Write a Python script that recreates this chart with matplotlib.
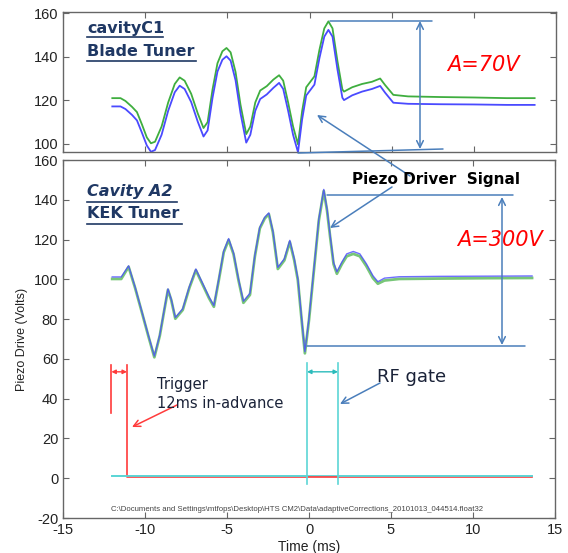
import matplotlib
matplotlib.use("Agg")
from matplotlib import pyplot as plt
from matplotlib.lines import Line2D
from matplotlib.patches import FancyArrowPatch

plt.rcParams["axes.unicode_minus"] = False

# ---- cavity C1 (blade tuner), top panel ----
c1_t = [-12.0, -11.5, -11.2, -10.8, -10.5, -10.2, -9.9, -9.65, -9.4, -9.0, -8.6, -8.2,
        -7.9, -7.6, -7.2, -6.8, -6.45, -6.2, -5.9, -5.6, -5.3, -5.05, -4.8, -4.5, -4.2,
        -3.85, -3.6, -3.3, -3.0, -2.6, -2.2, -1.85, -1.6, -1.3, -1.0, -0.7, -0.45, -0.2,
        0.1, 0.3, 0.6, 0.9, 1.15, 1.4, 1.7, 2.0, 2.1, 2.6, 3.2, 3.8, 4.3, 4.6, 5.1, 6.0,
        8.0, 10.0, 12.0, 13.7]
c1_green = [121.0, 121.0, 119.7, 117.0, 114.6, 109.0, 103.0, 100.3, 101.0, 108.0, 119.0, 127.5,
            130.5, 129.0, 123.0, 114.0, 107.3, 110.0, 125.0, 137.0, 142.5, 144.0, 142.0, 133.0, 118.0,
            104.5, 108.0, 119.0, 124.5, 126.5, 129.5, 131.5, 129.0, 119.0, 108.0, 99.8, 115.0, 126.0,
            129.0, 131.0, 143.0, 153.0, 156.2, 153.0, 138.0, 125.0, 124.0, 126.0, 127.5, 128.5, 130.0, 127.0, 122.5, 121.8,
            121.5, 121.3, 121.0, 121.0]
c1_blue = [117.2, 117.2, 116.0, 113.3, 110.8, 105.2, 99.3, 96.4, 97.2, 104.2, 115.2, 123.7,
           126.7, 125.2, 119.2, 110.2, 103.4, 106.2, 121.2, 133.2, 138.6, 140.2, 138.2, 129.2, 114.2,
           100.6, 104.2, 115.2, 120.6, 122.7, 125.7, 128.0, 125.2, 115.2, 104.2, 96.2, 111.2, 122.2,
           125.2, 127.2, 139.2, 149.2, 152.3, 149.2, 134.2, 121.2, 120.1, 122.3, 124.0, 125.2, 126.6, 123.5, 118.9, 118.4,
           118.2, 118.1, 117.9, 117.9]

# ---- cavity A2 (KEK tuner), bottom panel ----
a2_t = [-12.0, -11.45, -11.0, -10.6, -10.2, -9.8, -9.43, -9.1, -8.8, -8.6, -8.4, -8.15, -7.7,
        -7.3, -6.9, -6.5, -6.1, -5.8, -5.5, -5.2, -4.9, -4.6, -4.3, -4.0, -3.6, -3.3, -3.0,
        -2.7, -2.45, -2.2, -1.9, -1.5, -1.17, -0.9, -0.68, -0.45, -0.25, 0.0, 0.3, 0.6, 0.9,
        1.1, 1.3, 1.5, 1.7, 2.0, 2.3, 2.7, 3.1, 3.5, 3.9, 4.2, 4.6, 5.5, 8.0, 11.0, 13.6]
a2_green = [100.2, 100.2, 106.3, 95.6, 83.7, 71.6, 60.8, 71.6, 85.6, 94.7, 89.6, 80.2, 84.6,
            95.6, 104.6, 97.6, 90.6, 86.2, 99.6, 113.6, 119.8, 112.6, 99.6, 88.2, 92.2, 111.6, 125.6,
            130.6, 132.8, 123.6, 105.2, 109.6, 118.8, 109.6, 99.6, 79.6, 62.8, 79.6, 104.6, 129.6, 144.4,
            134.6, 120.6, 107.6, 102.8, 107.6, 111.6, 112.8, 111.6, 106.6, 100.6, 97.8, 99.4, 100.2, 100.4, 100.6, 100.7]
a2_blue = [101.2, 101.2, 106.8, 96.0, 84.0, 72.0, 61.4, 72.0, 86.0, 95.2, 90.0, 80.8, 85.2,
           96.2, 105.2, 98.2, 91.2, 86.8, 100.2, 114.2, 120.5, 113.2, 100.2, 89.0, 93.0, 112.2, 126.2,
           131.2, 133.4, 124.2, 106.0, 110.4, 119.6, 110.4, 100.4, 80.4, 63.6, 80.4, 105.4, 130.4, 145.2,
           135.4, 121.4, 108.4, 103.8, 108.6, 112.8, 114.0, 112.8, 107.8, 101.8, 98.8, 100.6, 101.3, 101.5, 101.6, 101.7]

# ---- trigger (red) and RF gate (cyan) ----
trig_left_t = [-12.05, -12.05]
trig_left_v = [33.0, 57.0]
trig_t = [-11.1, -11.1, 13.6]
trig_v = [57.0, 0.8, 0.8]
trig_width = [-12.05, -11.1]
trig_level = 53.5

gate_base_t = [-12.0, 13.6]
gate_base_v = [1.0, 1.0]
gate_edges = [-0.12, 1.77]
gate_span_v = [-3.0, 58.0]
gate_level = 53.5

file_path = r"C:\Documents and Settings\mtfops\Desktop\HTS CM2\Data\adaptiveCorrections_20101013_044514.float32"

GREEN = "#3fae3f"
BLUE = "#4a4aff"
CYAN = "#5cd6d6"
RED = "#ff3b3b"
ARROW = "#4a7ebb"
NAVY = "#1f3864"

fig = plt.figure(figsize=(5.68, 5.53), dpi=100)
W, H = 568.0, 553.0


def fp(x, y):
    # pixel position (from top-left) to figure fraction
    return (x / W, 1 - y / H)


def style(ax):
    for s in ax.spines.values():
        s.set_color("#666666")
        s.set_linewidth(1.0)
    ax.tick_params(direction="in", top=True, right=True, length=4, color="#666666",
                   labelsize=10.5, labelcolor="#222222")
    for lab in ax.get_xticklabels() + ax.get_yticklabels():
        lab.set_family("Liberation Sans")


# top panel
ax1 = fig.add_axes([63 / W, 1 - 152 / H, 493 / W, 140 / H])
ax1.plot(c1_t, c1_green, color=GREEN, lw=1.3)
ax1.plot(c1_t, c1_blue, color=BLUE, lw=1.3)
ax1.set_xlim(-15, 15)
ax1.set_ylim(96.3, 160.5)
ax1.set_yticks([100, 120, 140, 160])
ax1.set_xticks([-15, -10, -5, 0, 5, 10, 15])
ax1.set_xticklabels([])
style(ax1)

# bottom panel
ax2 = fig.add_axes([63 / W, 1 - 518 / H, 492 / W, 358 / H])
ax2.plot(gate_base_t, gate_base_v, color=CYAN, lw=1.3, zorder=1)
ax2.plot(trig_left_t, trig_left_v, color=RED, lw=1.2)
ax2.plot(trig_t, trig_v, color=RED, lw=1.2, zorder=1.5)
ax2.plot([-12.0, -0.12], gate_base_v, color=CYAN, lw=1.3, zorder=2)
ax2.plot([1.77, 13.6], gate_base_v, color=CYAN, lw=1.3, zorder=2)
for xe in gate_edges:
    ax2.plot([xe, xe], gate_span_v, color=CYAN, lw=1.2)
ax2.annotate("", xy=(trig_width[0], trig_level), xytext=(trig_width[1], trig_level),
             arrowprops=dict(arrowstyle="<|-|>", color=RED, lw=1.0, mutation_scale=6,
                             shrinkA=0, shrinkB=0))
ax2.annotate("", xy=(gate_edges[0], gate_level), xytext=(gate_edges[1], gate_level),
             arrowprops=dict(arrowstyle="<|-|>", color="#2bbbbb", lw=1.0, mutation_scale=6,
                             shrinkA=0, shrinkB=0))
ax2.plot(a2_t, a2_green, color=GREEN, lw=2.0, alpha=0.7)
ax2.plot(a2_t, a2_blue, color=BLUE, lw=1.0, alpha=0.8)
ax2.set_xlim(-15, 15)
ax2.set_ylim(-20, 160)
ax2.set_xticks([-15, -10, -5, 0, 5, 10, 15])
ax2.set_yticks([-20, 0, 20, 40, 60, 80, 100, 120, 140, 160])
ax2.set_xlabel("Time (ms)", family="Liberation Sans", fontsize=10, color="#222222", labelpad=2)
ax2.set_ylabel("Piezo Drive (Volts)", family="Liberation Sans", fontsize=9, color="#222222", labelpad=4)
style(ax2)
ax2.text(-12.06, -15.5, file_path, fontsize=5.6, family="Liberation Sans", color="#444444", va="center")

# panel titles (underlined)
for txt, x, y, ul_end, ul_y, italic in [("cavityC1", 87, 29, 163, 37, False),
                                         ("Blade Tuner", 87, 52, 196, 61, False),
                                         ("Cavity A2", 87, 192, 177, 202, True),
                                         ("KEK Tuner", 87, 214, 182, 224, False)]:
    fig.text(*fp(x, y), txt, fontsize=11.5, fontweight="bold", color=NAVY, va="center", ha="left",
             style="italic" if italic else "normal")
    fig.add_artist(Line2D([x / W, ul_end / W], [1 - ul_y / H, 1 - ul_y / H], color=NAVY, lw=1.2))

fig.text(*fp(447, 65), "A=70V", fontsize=15, color="red", style="italic", va="center")
fig.text(*fp(457, 240), "A=300V", fontsize=15, color="red", style="italic", va="center")
fig.text(*fp(352, 179), "Piezo Driver  Signal", fontsize=11, fontweight="bold", color="black", va="center")
fig.text(*fp(157, 385), "Trigger", fontsize=10.5, color="#1a2238", va="center")
fig.text(*fp(157, 403), "12ms in-advance", fontsize=10.5, color="#1a2238", va="center")
fig.text(*fp(377, 377), "RF gate", fontsize=13, color="#1a2238", va="center")


def seg(p0, p1, color=ARROW, style="-", lw=1.1):
    fig.add_artist(FancyArrowPatch(fp(*p0), fp(*p1), transform=fig.transFigure,
                                   arrowstyle=style, color=color, lw=lw,
                                   mutation_scale=12, shrinkA=0, shrinkB=0))


# top panel amplitude marker
seg((330, 21), (432, 21))
seg((298, 153), (443, 149))
seg((420, 21), (420, 149), style="<->")
# bottom panel amplitude marker
seg((327, 195), (513, 195))
seg((307, 346), (525, 346))
seg((502, 197), (502, 345), style="<->")
# pointers
seg((410, 176), (317, 115), style="->")
seg((392, 187), (330, 228), style="->")
seg((177, 405), (132, 427), color=RED, style="->")
seg((380, 383), (340, 404), style="->")

fig.savefig("out.png", dpi=100)
